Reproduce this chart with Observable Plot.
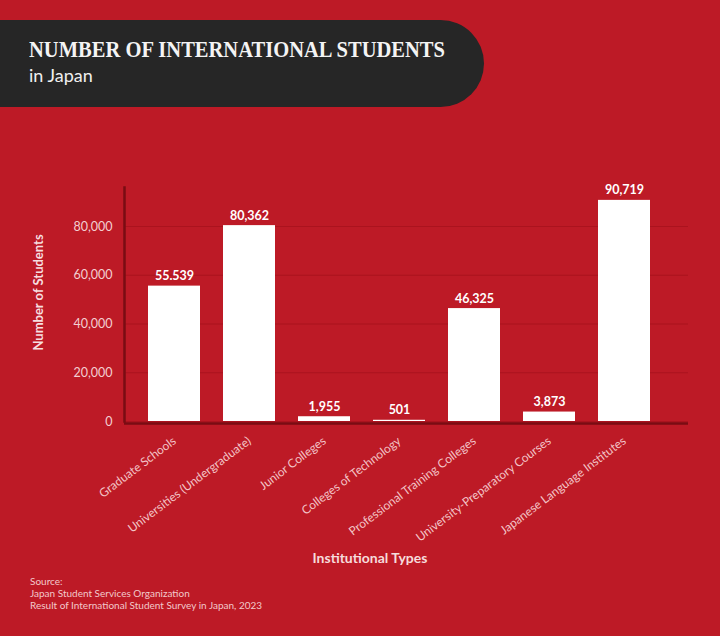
<!DOCTYPE html>
<html>
<head>
<meta charset="utf-8">
<script src="https://cdn.jsdelivr.net/npm/d3@7"></script>
<script src="https://cdn.jsdelivr.net/npm/@observablehq/plot@0.6"></script>
<style>
  html, body { margin: 0; padding: 0; background: #bd1a26; }
  #wrap { position: relative; width: 720px; height: 636px; background: #bd1a26; overflow: hidden; font-family: Lato, "Open Sans", sans-serif; }
  #titlebox { position: absolute; left: 0; top: 20px; width: 484px; height: 87px; background: #262626; border-radius: 0 44px 44px 0; }
  #title { position: absolute; left: 29px; top: 36px; font-family: "Liberation Serif", "DejaVu Serif", serif; font-weight: bold; font-size: 24px; color: #f4f4f4; white-space: nowrap; transform-origin: 0 50%; }
  #subtitle { position: absolute; left: 29px; top: 64px; font-family: Lato, sans-serif; font-size: 18px; color: #f0f0f0; white-space: nowrap; }
  #chart { position: absolute; left: 0; top: 0; }
  #xlabel { position: absolute; left: 0; width: 740px; top: 549px; text-align: center; font-weight: bold; font-size: 14px; color: #f6dcdc; }
  #source { position: absolute; left: 30px; top: 575px; font-size: 10px; line-height: 12px; color: #f2c9cb; }
</style>
</head>
<body>
<div id="wrap">
  <div id="chart"></div>
  <div id="titlebox"></div>
  <div id="title">NUMBER OF INTERNATIONAL STUDENTS</div>
  <div id="subtitle">in Japan</div>
  <div id="xlabel">Institutional Types</div>
  <div id="source">Source:<br>Japan Student Services Organization<br>Result of International Student Survey in Japan, 2023</div>
</div>
<script>
const categories = [
  "Graduate Schools",
  "Universities (Undergraduate)",
  "Junior Colleges",
  "Colleges of Technology",
  "Professional Training Colleges",
  "University-Preparatory Courses",
  "Japanese Language Institutes"
];
const students = [55539, 80362, 1955, 501, 46325, 3873, 90719];
const valueLabels = ["55.539", "80,362", "1,955", "501", "46,325", "3,873", "90,719"];
const yTicks = [0, 20000, 40000, 60000, 80000];
const yLabel = "Number of Students";

const data = categories.map((c, i) => ({category: c, value: students[i], label: valueLabels[i]}));

const chart = Plot.plot({
  width: 720,
  height: 540,
  marginTop: 187,
  marginLeft: 124,
  marginRight: 32,
  marginBottom: 119,
  style: {background: "transparent", fontFamily: "Lato, sans-serif", overflow: "visible"},
  x: {domain: categories, paddingInner: 0.307, paddingOuter: 0.4135, align: 0.387, label: null},
  y: {domain: [0, 96000], label: null},
  marks: [
    Plot.gridY(yTicks, {stroke: "#9e0f19", strokeOpacity: 0.6, strokeWidth: 1}),
    Plot.barY(data, {x: "category", y: "value", fill: "#ffffff"}),
    Plot.ruleY([0], {stroke: "#7a0c13", strokeWidth: 2.5, dy: 2}),
    Plot.frame({anchor: "left", stroke: "#7a0c13", strokeWidth: 2.5}),
    Plot.text(data, {x: "category", y: "value", text: "label", lineAnchor: "bottom", dy: -6, fill: "#ffffff", fontWeight: "bold", fontSize: 12.5}),
    Plot.axisY(yTicks, {tickSize: 0, tickPadding: 12, tickFormat: d3.format(","), fill: "#f3cfd1", fontSize: 12.5, label: null}),
    Plot.axisX({tickSize: 0, tickPadding: 18, tickRotate: -37, fill: "#f3c4c7", fontSize: 12, label: null}),
    Plot.text([yLabel], {frameAnchor: "left", textAnchor: "middle", rotate: -90, dx: -86, dy: -12, fill: "#f7dfe0", fontWeight: "bold", fontSize: 13})
  ]
});
document.getElementById("chart").appendChild(chart);

// fit title width to reference (~416px) by horizontal scaling
const t = document.getElementById("title");
const w = t.getBoundingClientRect().width;
t.style.transform = "scaleX(" + (416 / w) + ")";
</script>
</body>
</html>
